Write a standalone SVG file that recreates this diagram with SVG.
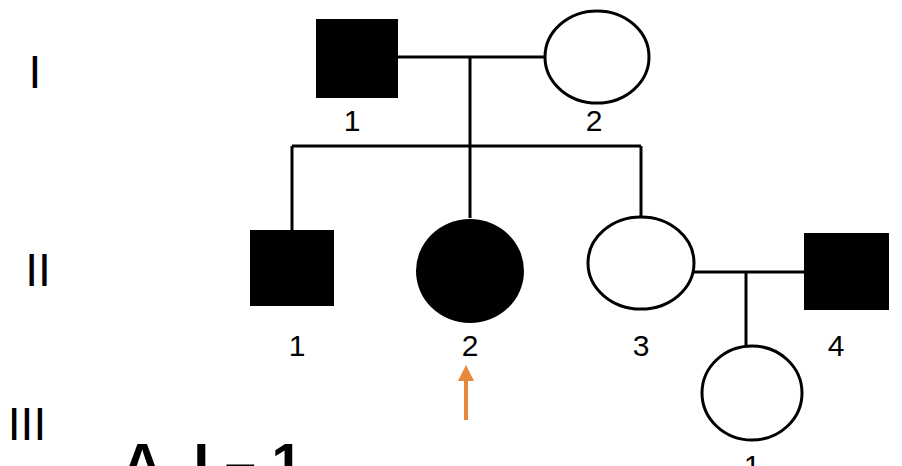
<svg xmlns="http://www.w3.org/2000/svg" width="902" height="466" viewBox="0 0 902 466">
<style>
.f{fill:#000}.o{fill:#fff;stroke:#000;stroke-width:3}
.l{stroke:#000;stroke-width:3;fill:none}
.t{font-family:"Liberation Sans",Arial,sans-serif;font-size:30px;text-anchor:middle}
.r{font-family:"Liberation Sans",Arial,sans-serif;font-size:46px;text-anchor:middle}
</style>
<rect width="902" height="466" fill="#fff"/>
<text class="r" x="35" y="88">I</text>
<text class="r" x="38" y="286">II</text>
<text class="r" x="27" y="440">III</text>
<g id="connectors">
<path class="l" d="M398 57H545M470 57V146M292 146H641M292 146V230M470 146V218M641 146V218M694 272H804M746 272V346"/>
</g>
<g id="I1"><rect class="f" x="316" y="19" width="82" height="79"/><text class="t" x="352" y="131">1</text></g>
<g id="I2"><ellipse class="o" cx="597" cy="57" rx="52" ry="46"/><text class="t" x="594" y="131">2</text></g>
<g id="II1"><rect class="f" x="250" y="230" width="84" height="76"/><text class="t" x="297" y="356">1</text></g>
<g id="II2"><ellipse class="f" cx="470" cy="271" rx="54" ry="52"/><text class="t" x="470" y="356">2</text></g>
<g id="II3"><ellipse class="o" cx="641" cy="263" rx="53" ry="46"/><text class="t" x="641" y="356">3</text></g>
<g id="II4"><rect class="f" x="804" y="233" width="85" height="77"/><text class="t" x="836" y="356">4</text></g>
<g id="III1"><ellipse class="o" cx="752" cy="393" rx="50" ry="47"/><text class="t" x="752" y="476">1</text></g>
<g id="arrow"><path d="M466 420V378" stroke="#E8883A" stroke-width="4"/><path d="M466 365L458 381H474Z" fill="#E8883A"/></g>
<text font-family="Liberation Sans,Arial,sans-serif" font-size="56" font-weight="bold" x="122" y="482">A. I – 1</text>
</svg>
